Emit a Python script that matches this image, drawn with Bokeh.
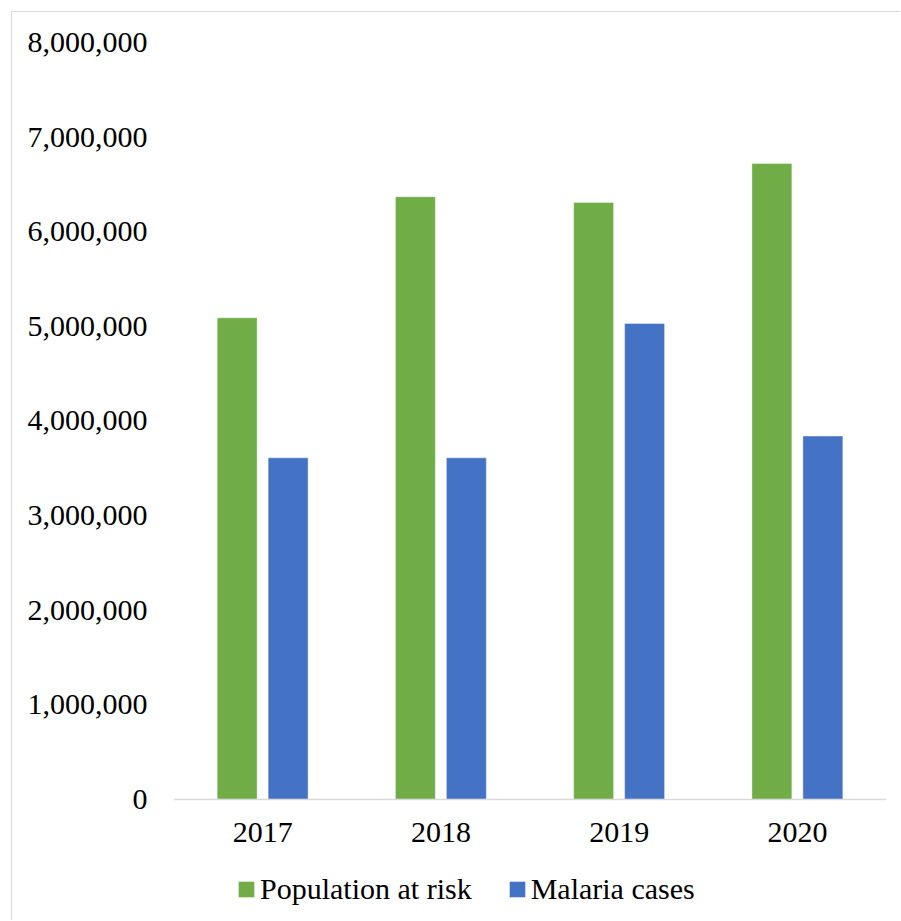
from bokeh.plotting import figure
from bokeh.models import ColumnDataSource, FactorRange, Range1d, NumeralTickFormatter, FixedTicker, Legend, LegendItem
from bokeh.transform import dodge
from bokeh.embed import file_html
from bokeh.resources import INLINE

years = ["2017", "2018", "2019", "2020"]
population_at_risk = [5090000, 6370000, 6310000, 6720000]
malaria_cases = [3610000, 3610000, 5030000, 3840000]
y_ticks = [0, 1000000, 2000000, 3000000, 4000000, 5000000, 6000000, 7000000, 8000000]

FONT = "Liberation Serif"
GREEN = "#70AD47"
BLUE = "#4472C4"

# layout: value axis 0..8M spans 756 px; frame extends 122 px below zero for the labels/legend
Y_MAX = 8000000
Y_MIN = -Y_MAX * 122 / 756

source = ColumnDataSource(data=dict(year=years, pop=population_at_risk, cases=malaria_cases))

p = figure(
    x_range=FactorRange(*years, range_padding=0),
    y_range=Range1d(Y_MIN, Y_MAX),
    width=889, height=909,
    output_backend="svg", toolbar_location=None,
    min_border_left=161, min_border_right=15, min_border_top=30, min_border_bottom=0,
)
p.styles = {"margin-left": "11px", "margin-top": "11px",
            "border-left": "1px solid #d9d9d9", "border-top": "1px solid #d9d9d9"}
p.outline_line_color = None
p.xgrid.grid_line_color = None
p.ygrid.grid_line_color = None

r1 = p.vbar(x=dodge("year", -0.143, range=p.x_range), top="pop", bottom=0, width=0.224, source=source,
            fill_color=GREEN, line_color="white", line_alpha=0.4, line_width=1)
r2 = p.vbar(x=dodge("year", 0.143, range=p.x_range), top="cases", bottom=0, width=0.224, source=source,
            fill_color=BLUE, line_color="white", line_alpha=0.4, line_width=1)

p.yaxis.ticker = FixedTicker(ticks=y_ticks)
p.yaxis.formatter = NumeralTickFormatter(format="0,0")
p.yaxis.axis_line_color = None
p.yaxis.major_tick_line_color = None
p.yaxis.minor_tick_line_color = None
p.yaxis.major_tick_out = 0
p.yaxis.major_label_standoff = 26
p.yaxis.major_label_text_font = FONT
p.yaxis.major_label_text_font_size = "30px"
p.yaxis.major_label_text_color = "black"

p.xaxis.fixed_location = 0
p.xaxis.axis_line_color = "#d9d9d9"
p.xaxis.axis_line_width = 1.5
p.xaxis.major_tick_line_color = None
p.xaxis.minor_tick_line_color = None
p.xaxis.major_tick_out = 0
p.xaxis.major_label_standoff = 24
p.xaxis.major_label_text_font = FONT
p.xaxis.major_label_text_font_size = "30px"
p.xaxis.major_label_text_color = "black"

legend = Legend(
    items=[LegendItem(label="Population at risk", renderers=[r1]),
           LegendItem(label="Malaria cases", renderers=[r2])],
    orientation="horizontal",
    location=(63, 15),
    padding=0, margin=0, spacing=35,
    glyph_width=20, glyph_height=20, label_standoff=4, label_height=20,
    label_text_font=FONT, label_text_font_size="30px", label_text_color="black",
    border_line_color=None, background_fill_alpha=0,
)
p.add_layout(legend, "center")

open("out.html", "w").write(file_html(p, INLINE))
